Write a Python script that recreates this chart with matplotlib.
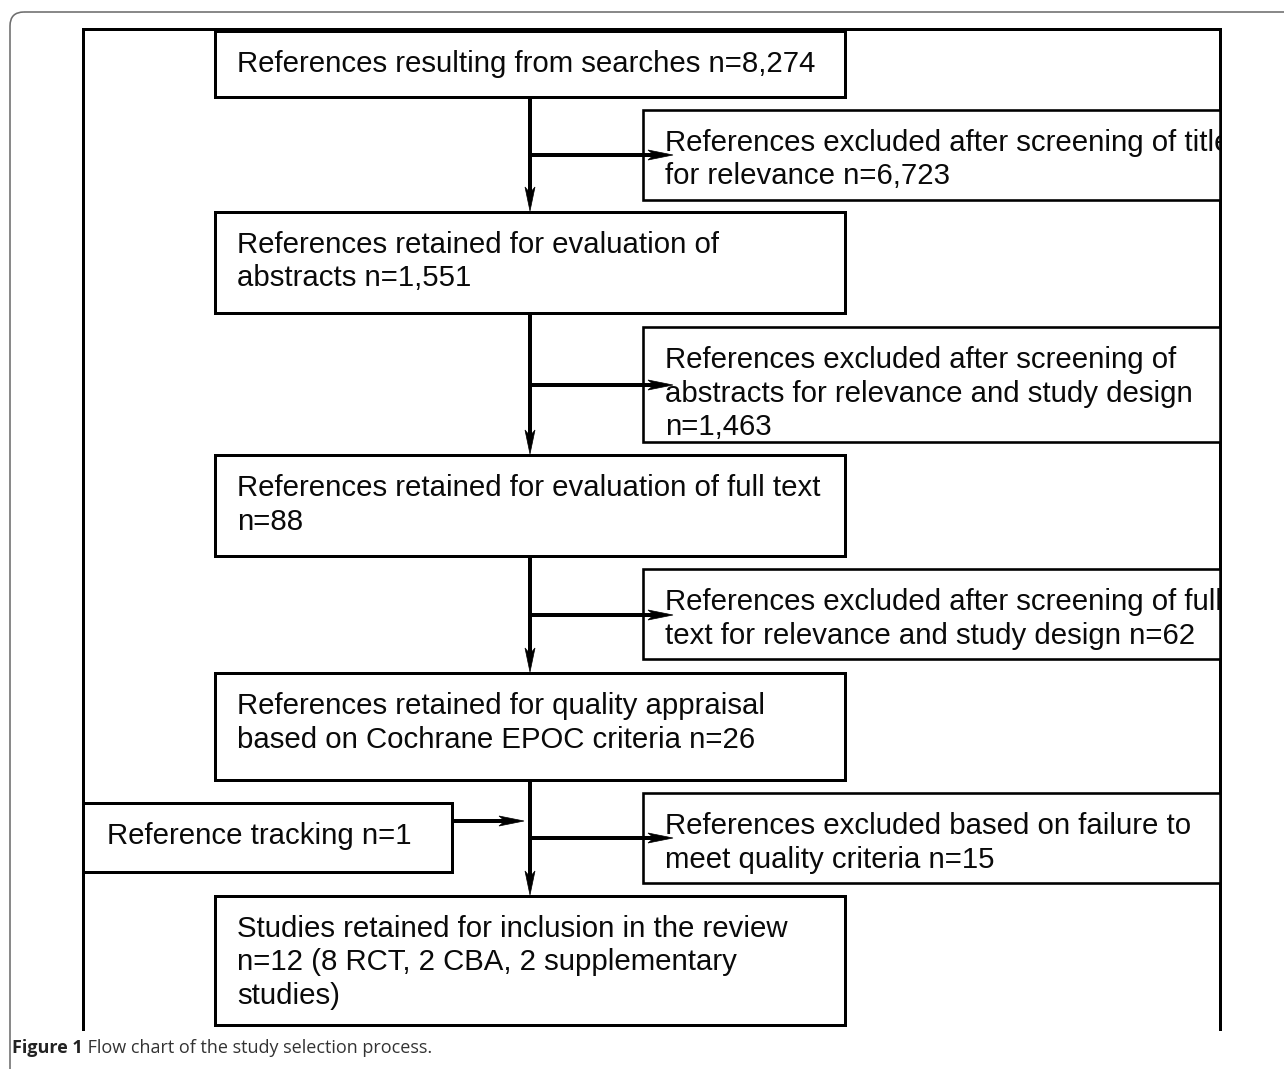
import matplotlib
matplotlib.use("Agg")
import matplotlib.pyplot as plt
from matplotlib.patches import Rectangle, FancyBboxPatch, Polygon

# ---------------- data (texts) ----------------
main_texts = [
    ["References resulting from searches n=8,274"],
    ["References retained for evaluation of", "abstracts n=1,551"],
    ["References retained for evaluation of full text", "n=88"],
    ["References retained for quality appraisal", "based on Cochrane EPOC criteria n=26"],
    ["Studies retained for inclusion in the review", "n=12 (8 RCT, 2 CBA, 2 supplementary", "studies)"],
]
excluded_texts = [
    ["References excluded after screening of titles", "for relevance n=6,723"],
    ["References excluded after screening of", "abstracts for relevance and study design", "n=1,463"],
    ["References excluded after screening of full", "text for relevance and study design n=62"],
    ["References excluded based on failure to", "meet quality criteria n=15"],
]
tracking_text = ["Reference tracking n=1"]
caption_bold = "Figure 1"
caption_rest = " Flow chart of the study selection process."

# ---------------- layout (pixels) ----------------
W, H = 1284, 1069
main_boxes = [(215, 31, 845, 97), (215, 212, 845, 313), (215, 455, 845, 556),
              (215, 673, 845, 780), (215, 896, 845, 1025)]
excl_boxes = [(643, 110, 1220, 200), (643, 327, 1220, 442), (643, 569, 1220, 659),
              (643, 793, 1220, 883)]
track_box = (83, 803, 452, 872)
frame = (83, 29, 1220, 1029)
spine_x = 530
branch_y = [155, 385, 615, 838]

fig = plt.figure(figsize=(W / 100, H / 100), dpi=100)
ax = fig.add_axes([0, 0, 1, 1])
ax.set_xlim(0, W)
ax.set_ylim(H, 0)
ax.axis("off")

PX = 0.72  # points per pixel
FONT = ["Liberation Sans", "DejaVu Sans"]
FS = 21.2
LINE = 33.5

# outer rounded frame
outer = FancyBboxPatch((10, 12), W + 40, H + 40, boxstyle="round,pad=0,rounding_size=14",
                       fc="none", ec="#6e6e6e", lw=1.6 * PX, zorder=1)
ax.add_patch(outer)

# inner frame
fx0, fy0, fx1, fy1 = frame
ax.plot([fx0, fx0, fx1, fx1], [fy1, fy0, fy0, fy1], color="black", lw=3 * PX,
        solid_joinstyle="miter", zorder=2)
clip_rect = Rectangle((0, 0), fx1, H, transform=ax.transData, fc="none", ec="none")


def box(b, lines, lw=3.0, tx=22, clip=False):
    x0, y0, x1, y1 = b
    ax.add_patch(Rectangle((x0, y0), x1 - x0, y1 - y0, fc="white", ec="black",
                           lw=lw * PX, zorder=3))
    for i, s in enumerate(lines):
        t = ax.text(x0 + tx, y0 + 41 + i * LINE, s, fontsize=FS, family=FONT,
                    color="#0a0a0a", va="baseline", ha="left", zorder=4)
        if clip:
            t.set_clip_on(True)
            t.set_clip_path(clip_rect)


def arrow(x0, y0, x1, y1, lw=4.0, hl=24, hw=5.5, notch=6):
    dx, dy = x1 - x0, y1 - y0
    L = (dx ** 2 + dy ** 2) ** 0.5
    ux, uy = dx / L, dy / L
    px_, py_ = -uy, ux
    bx, by = x1 - ux * hl, y1 - uy * hl
    nx, ny = x1 - ux * (hl - notch), y1 - uy * (hl - notch)
    ax.plot([x0, nx], [y0, ny], color="black", lw=lw * PX, solid_capstyle="butt", zorder=5)
    ax.add_patch(Polygon([(x1, y1), (bx + px_ * hw, by + py_ * hw), (nx, ny),
                          (bx - px_ * hw, by - py_ * hw)], closed=True, fc="black",
                         ec="black", lw=0.5, zorder=6))


for b, lines in zip(main_boxes, main_texts):
    box(b, lines, lw=3.0)
for b, lines in zip(excl_boxes, excluded_texts):
    box(b, lines, lw=2.6, clip=True)
box(track_box, tracking_text, lw=3.0, tx=24)

# vertical spine arrows
for upper, lower in zip(main_boxes[:-1], main_boxes[1:]):
    arrow(spine_x, upper[3], spine_x, lower[1] - 1, lw=4.0, hl=24, hw=5)
# branches to excluded boxes
for by_ in branch_y:
    arrow(spine_x, by_, 673, by_, lw=4.0, hl=25, hw=5)
# tracking arrow
ty = 821
arrow(track_box[2], ty, 524, ty, lw=4.0, hl=25, hw=5)

# caption
fig.canvas.draw()
r = fig.canvas.get_renderer()
cap_y = 1053
CAP_FONT = ["Open Sans", "DejaVu Sans"]
t1 = ax.text(12, cap_y, caption_bold, fontsize=13.0, family=CAP_FONT,
             weight="bold", color="#222222", va="baseline", ha="left")
bb = t1.get_window_extent(renderer=r)
x_end = ax.transData.inverted().transform((bb.x1, bb.y0))[0]
ax.text(x_end, cap_y, caption_rest, fontsize=13.0, family=CAP_FONT,
        color="#333333", va="baseline", ha="left")

fig.savefig("out.png", dpi=100, facecolor="white")
